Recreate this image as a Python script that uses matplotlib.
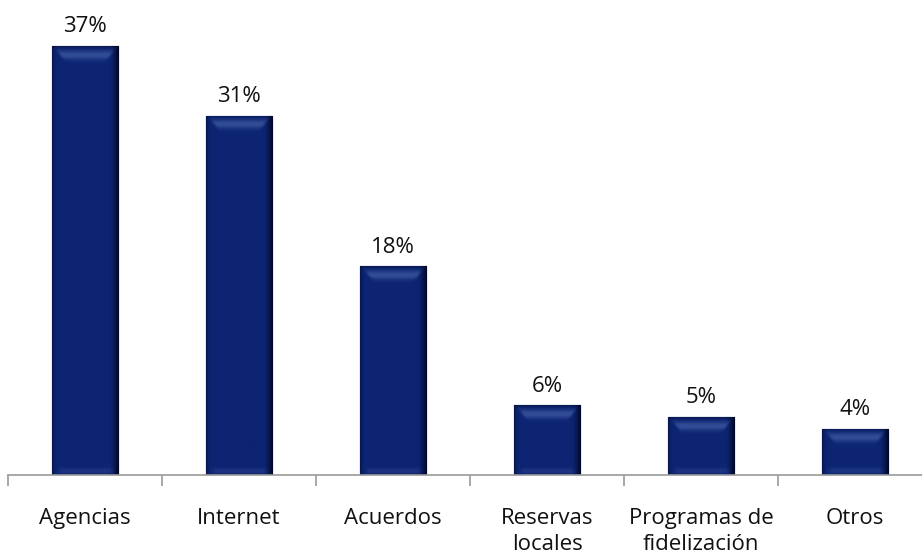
import numpy as np
import matplotlib.pyplot as plt

categories = ["Agencias", "Internet", "Acuerdos", "Reservas\nlocales",
              "Programas de\nfidelización", "Otros"]
values = [37, 31, 18, 6, 5, 4]
value_labels = ["37%", "31%", "18%", "6%", "5%", "4%"]

plt.rcParams["font.family"] = ["Open Sans", "DejaVu Sans"]

fig = plt.figure(figsize=(9.22, 5.56), dpi=100)
ax = fig.add_axes([8 / 922, 81 / 556, 924 / 922, 475 / 556])

x = np.arange(len(categories))
width = 0.43
ymax = 41
bars = ax.bar(x, values, width=width, color="#0d2472", edgecolor="#8d929c",
              linewidth=1.0, zorder=2)

base = np.array([13, 36, 114]) / 255
dark = np.array([0, 4, 30]) / 255
light = np.array([75, 105, 175]) / 255

# bevel shading, worked out in screen pixels for each bar
px_x = 924 / len(categories)
px_y = 475 / ymax
for b in bars:
    x0, y0 = b.get_x(), b.get_y()
    w, h = b.get_width(), b.get_height()
    W = int(round(w * px_x))
    H = int(round(h * px_y))
    cols, rows = np.meshgrid(np.arange(W) + 0.5, np.arange(H) + 0.5)
    d_r = W - cols
    d_l = cols
    d_t = rows
    d_b = H - rows
    img = np.tile(base, (H, W, 1))
    # dark right edge
    f = np.clip(1 - d_r / 9, 0, 1) ** 1.5
    img = img * (1 - f[..., None]) + dark * f[..., None]
    # slightly dark left edge
    f = np.clip(1 - d_l / 4, 0, 1) * 0.4
    img = img * (1 - f[..., None]) + dark * f[..., None]
    # light band under the top edge, tapering towards the sides
    band = np.exp(-((d_t - 9) / 4.5) ** 2)
    taper = np.clip((np.minimum(d_l, d_r) - d_t * 0.7) / 4, 0, 1)
    f = band * taper * 0.6
    img = img * (1 - f[..., None]) + light * f[..., None]
    # darker strip right at the top
    f = np.clip(1 - d_t / 4, 0, 1) * 0.35
    img = img * (1 - f[..., None]) + dark * f[..., None]
    # soft light at the foot
    f = np.exp(-((d_b - 4) / 3) ** 2) * np.clip((np.minimum(d_l, d_r) - 4) / 6, 0, 1) * 0.25
    img = img * (1 - f[..., None]) + light * f[..., None]
    im = ax.imshow(np.clip(img, 0, 1), extent=[x0, x0 + w, y0, y0 + h],
                   origin="upper", aspect="auto", zorder=2.5,
                   interpolation="bilinear")
    im.set_clip_path(b)

for xi, v, lab in zip(x, values, value_labels):
    ax.text(xi, v + 1.2, lab, ha="center", va="baseline", fontsize=16,
            color="#111111")

ax.set_xlim(-0.5, len(categories) - 0.5)
ax.set_ylim(0, ymax)

for s in ["top", "right", "left"]:
    ax.spines[s].set_visible(False)
ax.spines["bottom"].set_color("#9a9a9a")
ax.spines["bottom"].set_linewidth(1.2)
ax.spines["bottom"].set_zorder(3)
ax.set_yticks([])

ax.set_xticks(x)
ax.set_xticklabels(categories, fontsize=16, color="#111111", linespacing=1.3)
ax.tick_params(axis="x", which="major", length=0, pad=24)
ax.set_xticks(np.arange(len(categories) + 1) - 0.5, minor=True)
ax.tick_params(axis="x", which="minor", length=8, width=1.2, color="#9a9a9a")

fig.savefig("out.png", dpi=100)
